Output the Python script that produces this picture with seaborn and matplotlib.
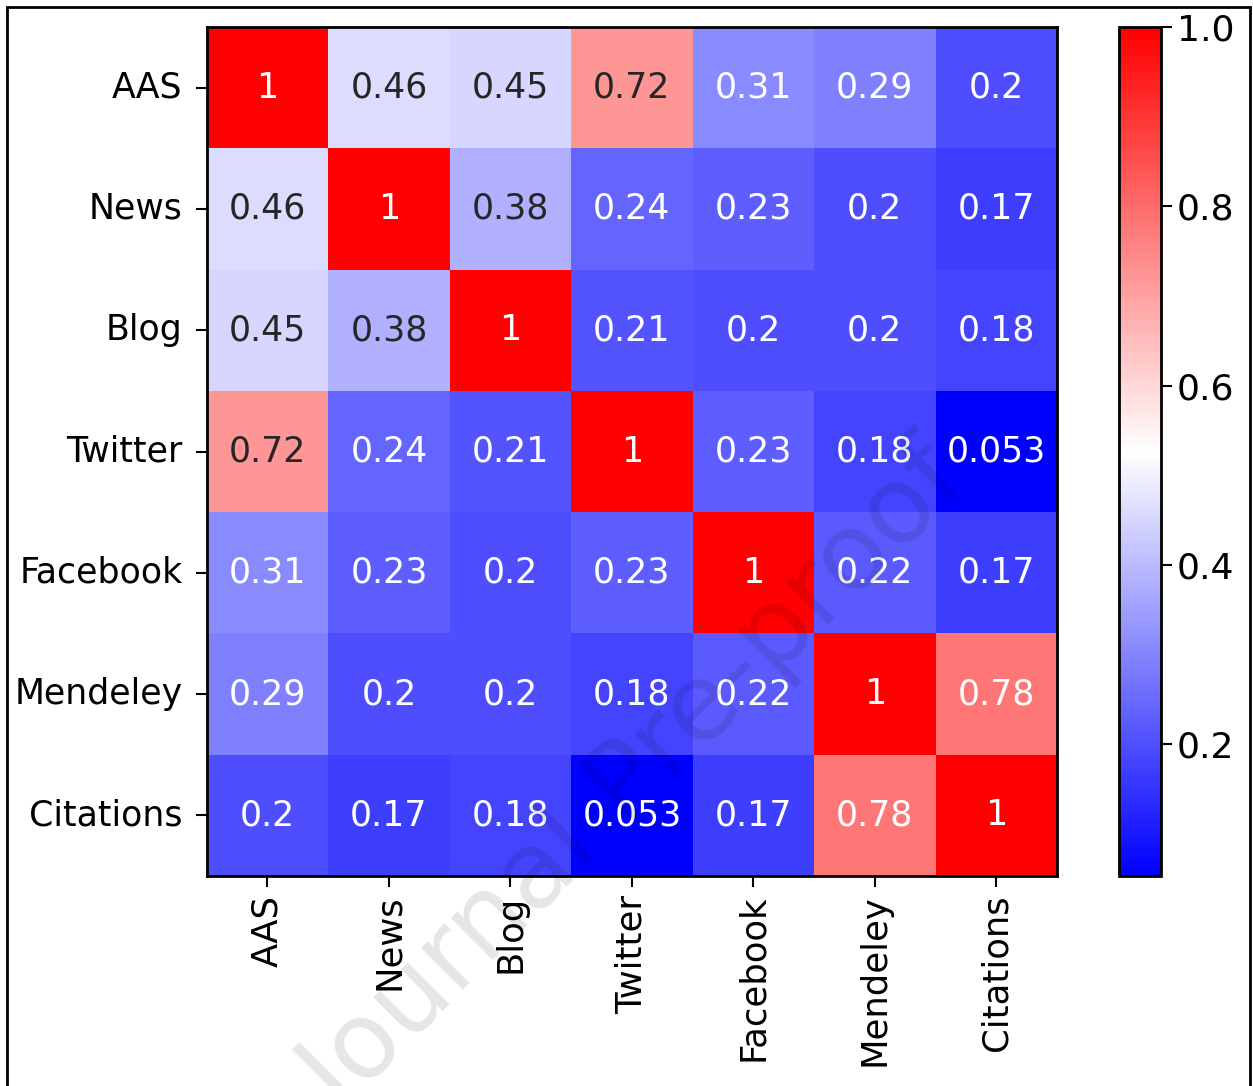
################################################################################
# Correlation heatmap of altmetric indicators (recreated)
################################################################################

import numpy as np
import pandas as pd
import seaborn as sns
import matplotlib.pyplot as plt
from matplotlib.patches import Rectangle

plt.rcParams.update({'font.size': 25, 'font.family': 'DejaVu Sans'})

################################################################################
# data

labels = ['AAS', 'News', 'Blog', 'Twitter', 'Facebook', 'Mendeley', 'Citations']

row_aas       = [1,    0.46, 0.45, 0.72,  0.31, 0.29, 0.2]
row_news      = [0.46, 1,    0.38, 0.24,  0.23, 0.2,  0.17]
row_blog      = [0.45, 0.38, 1,    0.21,  0.2,  0.2,  0.18]
row_twitter   = [0.72, 0.24, 0.21, 1,     0.23, 0.18, 0.053]
row_facebook  = [0.31, 0.23, 0.2,  0.23,  1,    0.22, 0.17]
row_mendeley  = [0.29, 0.2,  0.2,  0.18,  0.22, 1,    0.78]
row_citations = [0.2,  0.17, 0.18, 0.053, 0.17, 0.78, 1]

colorbar_ticks = [0.2, 0.4, 0.6, 0.8, 1.0]

df_corr = pd.DataFrame([row_aas, row_news, row_blog, row_twitter,
                        row_facebook, row_mendeley, row_citations],
                       index=labels, columns=labels)

################################################################################
# plot

fig = plt.figure(figsize=(12.53, 10.86), dpi=100)
ax = fig.add_axes([0.165, 0.1934, 0.6786, 0.7817])
cax = fig.add_axes([0.893, 0.1934, 0.0336, 0.7817])

sns.heatmap(df_corr, cmap='bwr', annot=True, fmt='.2g',
            annot_kws={'fontsize': 25}, ax=ax, cbar_ax=cax,
            cbar_kws={'ticks': colorbar_ticks})

ax.set_yticklabels(labels, rotation=0)
ax.set_xticklabels(labels, rotation=90)
ax.tick_params(axis='y', length=8, width=1.5, labelsize=25, pad=9.5)
ax.tick_params(axis='x', length=8, width=1.5, labelsize=25.5, pad=5.5)
for sp in ax.spines.values():
    sp.set_visible(True)
    sp.set_linewidth(2)
    sp.set_color('black')

cax.tick_params(length=8, width=1.5, labelsize=26)
cax.set_yticklabels(['0.2', '0.4', '0.6', '0.8', '1.0'])
cbar = ax.collections[0].colorbar
cbar.outline.set_visible(True)
cbar.outline.set_linewidth(2)
cbar.outline.set_edgecolor('black')

# faint watermark across the figure
fig.text(0.508, 0.281, 'Journal Pre-proof', fontsize=77, rotation=45,
         rotation_mode='anchor', ha='center', va='center',
         color='black', alpha=0.1, zorder=10)

# page frame
fig.patches.append(Rectangle((0.0056, -0.05), 0.992, 1.0436, transform=fig.transFigure,
                             fill=False, edgecolor='black', linewidth=2))

fig.savefig('out.png', dpi=100)
